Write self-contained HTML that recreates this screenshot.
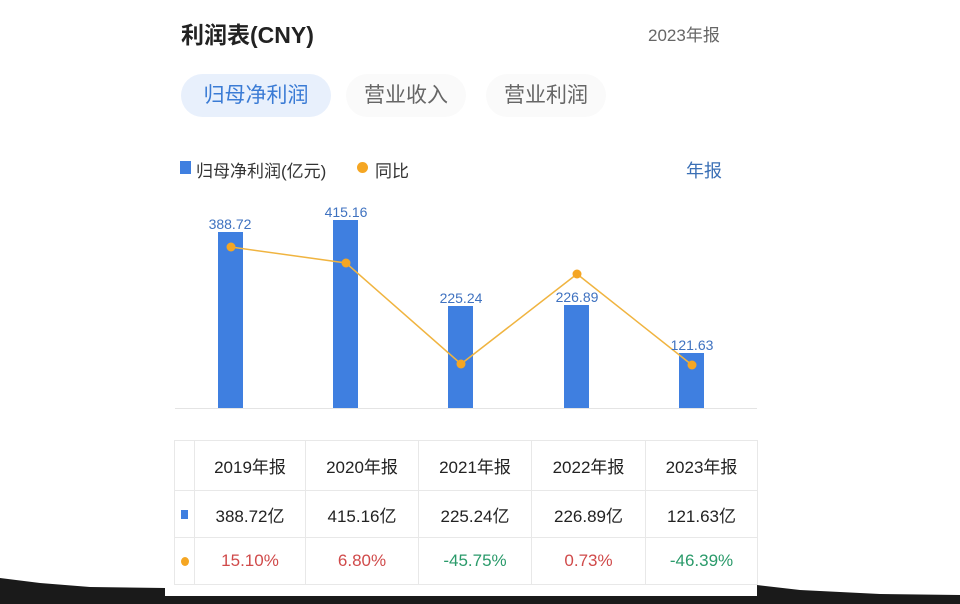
<!DOCTYPE html>
<html><head><meta charset="utf-8"><style>
body{margin:0;width:960px;height:604px;background:#fff;position:relative;overflow:hidden;font-family:"Liberation Sans","Noto Sans CJK SC",sans-serif}
.a{position:absolute;white-space:nowrap}
table{position:absolute;left:174px;top:440px;border-collapse:collapse;font-size:17px;color:#222}
td{border:1px solid #e8e8e8;text-align:center;height:46px;padding:0}
.r{color:#d04a4a}.g{color:#2a9a6a}
</style></head><body>
<svg class="a" style="left:0;top:0" width="960" height="604">
<polygon points="0,578 40,583 90,587 165,588 165,604 0,604" fill="#1a1a1a"/>
<polygon points="757,585 800,590 880,594 960,595 960,604 757,604" fill="#1a1a1a"/>
<rect x="165" y="596" width="592" height="8" fill="#1a1a1a"/>
<line x1="175" y1="408.5" x2="757" y2="408.5" stroke="#e4e4e4"/>
<g fill="#3f7fe0">
<rect x="218" y="232" width="25" height="176"/>
<rect x="333" y="220" width="25" height="188"/>
<rect x="448" y="306" width="25" height="102"/>
<rect x="564" y="305" width="25" height="103"/>
<rect x="679" y="353" width="25" height="55"/>
</g>
<polyline points="231,247 346,263 461,364 577,274 692,365" fill="none" stroke="#f0b440" stroke-width="1.5"/>
<g fill="#f5a623"><circle cx="231" cy="247" r="4.5"/><circle cx="346" cy="263" r="4.5"/><circle cx="461" cy="364" r="4.5"/><circle cx="577" cy="274" r="4.5"/><circle cx="692" cy="365" r="4.5"/></g>
<g fill="#3f72c0" font-size="14" text-anchor="middle" font-family="Liberation Sans,sans-serif">
<text x="230" y="229">388.72</text><text x="346" y="217">415.16</text><text x="461" y="303">225.24</text><text x="577" y="302">226.89</text><text x="692" y="350">121.63</text>
</g>
</svg>
<div class="a" style="left:181px;top:16px;font-size:23px;font-weight:bold;color:#222">利润表(CNY)</div>
<div class="a" style="left:648px;top:21px;font-size:17px;color:#666">2023年报</div>
<div class="a" style="left:181px;top:74px;width:150px;height:43px;border-radius:22px;background:#e8f0fc;color:#3a7bd5;font-size:21px;line-height:43px;text-align:center">归母净利润</div>
<div class="a" style="left:346px;top:74px;width:120px;height:43px;border-radius:22px;background:#fafafa;color:#666;font-size:21px;line-height:43px;text-align:center">营业收入</div>
<div class="a" style="left:486px;top:74px;width:120px;height:43px;border-radius:22px;background:#fafafa;color:#666;font-size:21px;line-height:43px;text-align:center">营业利润</div>
<div class="a" style="left:180px;top:161px;width:11px;height:13px;background:#3f7fe0"></div>
<div class="a" style="left:196px;top:157px;font-size:17px;color:#333">归母净利润(亿元)</div>
<div class="a" style="left:357px;top:162px;width:11px;height:11px;border-radius:50%;background:#f5a623"></div>
<div class="a" style="left:375px;top:157px;font-size:17px;color:#333">同比</div>
<div class="a" style="left:686px;top:157px;font-size:18px;color:#3a6fb5">年报</div>
<table>
<tr style="height:50px"><td style="width:19px"></td><td style="width:110px">2019年报</td><td style="width:112px">2020年报</td><td style="width:112px">2021年报</td><td style="width:113px">2022年报</td><td style="width:111px">2023年报</td></tr>
<tr><td><span style="display:inline-block;width:7px;height:9px;background:#3f7fe0"></span></td><td>388.72亿</td><td>415.16亿</td><td>225.24亿</td><td>226.89亿</td><td>121.63亿</td></tr>
<tr><td><span style="display:inline-block;width:8px;height:9px;border-radius:50%;background:#f5a623"></span></td><td class="r">15.10%</td><td class="r">6.80%</td><td class="g">-45.75%</td><td class="r">0.73%</td><td class="g">-46.39%</td></tr>
</table>
</body></html>
